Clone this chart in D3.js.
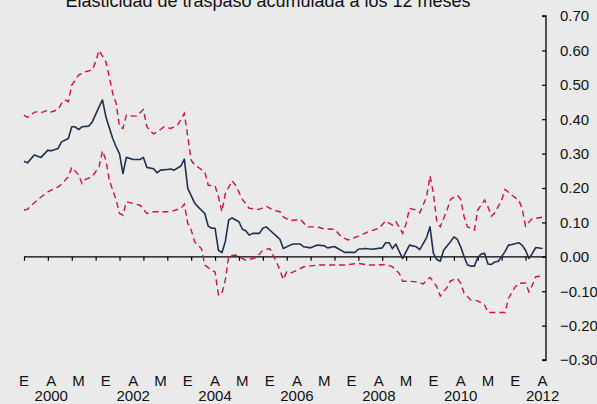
<!DOCTYPE html>
<html>
<head>
<meta charset="utf-8">
<script src="https://cdn.jsdelivr.net/npm/d3@7"></script>
<style>
  body { margin: 0; background: #eaeaea; }
  svg { display: block; font-family: Arial, "Liberation Sans", sans-serif; }
</style>
</head>
<body>
<div id="chart"></div>
<script>
// month index 0 = enero 2000
const centralM = [0, 1, 3, 5, 7, 8, 10, 11, 13, 14, 15, 16, 17, 19, 20, 22, 23, 24, 26, 27, 28, 29, 30, 32, 34, 35, 36, 38, 39, 40, 42, 43, 44, 46, 47, 48, 50, 51, 53, 54, 55, 56, 57, 58, 59, 60, 61, 63, 64, 65, 66, 67, 69, 70, 71, 72, 74, 75, 76, 78, 79, 81, 82, 84, 86, 88, 89, 91, 92, 94, 97, 98, 100, 102, 105, 106, 107, 108, 109, 110, 111, 112, 113, 115, 116, 118, 119, 120, 121, 122, 123, 125, 126, 127, 128, 129, 130, 131, 132, 133, 134, 135, 136, 137, 138, 139, 141, 142, 143, 145, 146, 147, 148, 149, 150, 152];
const centralV = [0.278, 0.273, 0.296, 0.289, 0.310, 0.308, 0.315, 0.334, 0.344, 0.378, 0.378, 0.370, 0.378, 0.380, 0.392, 0.436, 0.456, 0.407, 0.344, 0.320, 0.299, 0.242, 0.289, 0.283, 0.283, 0.289, 0.260, 0.256, 0.244, 0.252, 0.254, 0.255, 0.252, 0.264, 0.284, 0.199, 0.157, 0.145, 0.126, 0.089, 0.083, 0.083, 0.019, 0.012, 0.044, 0.107, 0.113, 0.102, 0.080, 0.076, 0.063, 0.068, 0.068, 0.083, 0.087, 0.078, 0.060, 0.051, 0.024, 0.034, 0.037, 0.037, 0.029, 0.026, 0.034, 0.032, 0.026, 0.030, 0.024, 0.013, 0.013, 0.022, 0.024, 0.022, 0.026, 0.041, 0.041, 0.024, 0.037, 0.015, -0.005, 0.015, 0.034, 0.029, 0.021, 0.056, 0.087, 0.010, -0.008, -0.013, 0.019, 0.044, 0.058, 0.051, 0.029, 0.000, -0.024, -0.027, -0.027, -0.002, 0.008, 0.010, -0.021, -0.022, -0.015, -0.013, 0.015, 0.034, 0.036, 0.041, 0.034, 0.019, -0.005, 0.010, 0.027, 0.024, 0.029];

const upperM = [0, 1, 3, 4, 5, 7, 8, 10, 11, 12, 13, 14, 16, 18, 20, 21, 22, 24, 25, 26, 27, 28, 29, 30, 32, 33, 35, 36, 37, 38, 40, 41, 43, 45, 46, 47, 49, 50, 53, 54, 56, 57, 58, 59, 61, 62, 64, 66, 69, 71, 73, 75, 76, 78, 81, 83, 86, 88, 91, 93, 95, 98, 101, 104, 106, 108, 109, 111, 112, 113, 115, 116, 118, 119, 120, 121, 122, 124, 125, 127, 128, 129, 130, 132, 133, 135, 136, 137, 138, 140, 141, 143, 145, 146, 147, 149, 150, 152];
const upperV = [0.412, 0.405, 0.420, 0.422, 0.419, 0.426, 0.421, 0.428, 0.446, 0.456, 0.451, 0.499, 0.528, 0.538, 0.543, 0.567, 0.600, 0.567, 0.523, 0.475, 0.446, 0.378, 0.373, 0.412, 0.409, 0.409, 0.428, 0.378, 0.366, 0.357, 0.370, 0.378, 0.373, 0.383, 0.399, 0.417, 0.281, 0.267, 0.247, 0.208, 0.206, 0.174, 0.131, 0.184, 0.221, 0.208, 0.167, 0.141, 0.138, 0.147, 0.136, 0.131, 0.116, 0.105, 0.109, 0.087, 0.087, 0.081, 0.080, 0.058, 0.049, 0.060, 0.073, 0.083, 0.104, 0.092, 0.102, 0.068, 0.097, 0.141, 0.136, 0.128, 0.174, 0.235, 0.184, 0.102, 0.087, 0.136, 0.167, 0.179, 0.167, 0.116, 0.087, 0.078, 0.136, 0.165, 0.145, 0.118, 0.128, 0.165, 0.196, 0.179, 0.165, 0.141, 0.089, 0.112, 0.112, 0.115];

const lowerM = [0, 1, 3, 5, 7, 8, 10, 11, 13, 14, 16, 17, 18, 20, 22, 23, 24, 25, 26, 27, 28, 29, 30, 32, 34, 36, 38, 41, 43, 46, 47, 48, 49, 50, 52, 53, 55, 56, 57, 58, 59, 60, 62, 65, 68, 70, 72, 74, 75, 76, 77, 78, 80, 82, 86, 90, 94, 98, 101, 104, 106, 108, 110, 111, 113, 115, 117, 118, 119, 121, 122, 124, 125, 127, 128, 129, 131, 133, 135, 136, 138, 141, 142, 144, 145, 147, 148, 149, 150, 152];
const lowerV = [0.136, 0.138, 0.157, 0.174, 0.189, 0.194, 0.203, 0.211, 0.233, 0.260, 0.238, 0.213, 0.225, 0.233, 0.262, 0.308, 0.281, 0.223, 0.194, 0.165, 0.126, 0.121, 0.160, 0.155, 0.150, 0.126, 0.131, 0.131, 0.131, 0.141, 0.153, 0.097, 0.078, 0.044, 0.024, -0.024, -0.039, -0.044, -0.111, -0.106, -0.068, 0.002, 0.005, -0.010, -0.003, 0.019, 0.024, -0.015, -0.039, -0.066, -0.044, -0.048, -0.039, -0.029, -0.024, -0.024, -0.024, -0.019, -0.024, -0.024, -0.022, -0.029, -0.048, -0.071, -0.071, -0.073, -0.079, -0.068, -0.060, -0.087, -0.114, -0.089, -0.070, -0.063, -0.077, -0.106, -0.126, -0.128, -0.140, -0.162, -0.162, -0.162, -0.121, -0.087, -0.077, -0.076, -0.102, -0.082, -0.058, -0.056];

const yTicks = [0.7, 0.6, 0.5, 0.4, 0.3, 0.2, 0.1, 0.0, -0.1, -0.2, -0.3];
const xTickMonths = d3.range(0, 148, 7);
const monthLabels = ["E", "A", "M", "E", "A", "M", "E", "A", "M", "E", "A", "M", "E", "A", "M", "E", "A", "M", "E", "A"];
const yearLabels = ["2000", "2002", "2004", "2006", "2008", "2010", "2012"];
const title = "Elasticidad de traspaso acumulada a los 12 meses";

const width = 597, height = 404;

const svg = d3.select("#chart").append("svg")
    .attr("width", width)
    .attr("height", height);

svg.append("rect").attr("width", width).attr("height", height).attr("fill", "#eaeaea");

const x = d3.scaleLinear().domain([0, 153]).range([24, 546]);
const y = d3.scaleLinear().domain([-0.3, 0.7]).range([360, 16]);

// title (partly cut off at the top in the original)
svg.append("text")
    .attr("x", 268).attr("y", 7)
    .attr("text-anchor", "middle")
    .attr("font-size", 18)
    .attr("fill", "#111")
    .text(title);

// right axis
const gY = svg.append("g").attr("transform", `translate(${x(153)},0)`);
gY.call(d3.axisLeft(y).tickValues(yTicks).tickSize(4).tickFormat(() => ""));
gY.select(".domain").attr("d", `M-4,${y(0.7)}H0V${y(-0.3)}H-4`).attr("stroke", "#000").attr("stroke-width", 1.3);
gY.selectAll(".tick line").attr("stroke", "#000").attr("stroke-width", 1.2);
svg.append("g").selectAll("text").data(yTicks).join("text")
    .attr("x", x(153) + 14)
    .attr("y", d => y(d))
    .attr("dy", "0.36em")
    .attr("font-size", 15)
    .attr("fill", "#111")
    .text(d => d3.format(".2f")(d));

// zero line with ticks
const gX = svg.append("g").attr("transform", `translate(0,${y(0)})`);
gX.call(d3.axisBottom(x).tickValues(xTickMonths).tickSize(4).tickFormat(() => ""));
gX.select(".domain").attr("d", `M${x(0)},0H${x(153)}`).attr("stroke", "#000").attr("stroke-width", 1.3);
gX.selectAll(".tick line").attr("stroke", "#000").attr("stroke-width", 1.2);

// month / year labels
svg.append("g").selectAll("text").data(monthLabels).join("text")
    .attr("x", (d, i) => x(i * 8))
    .attr("y", 386)
    .attr("text-anchor", "middle")
    .attr("font-size", 15)
    .attr("fill", "#111")
    .text(d => d);
svg.append("g").selectAll("text").data(yearLabels).join("text")
    .attr("x", (d, i) => x(8 + i * 24))
    .attr("y", 401)
    .attr("text-anchor", "middle")
    .attr("font-size", 15)
    .attr("fill", "#111")
    .text(d => d);

const line = d3.line().x(d => x(d[0])).y(d => y(d[1]));
const zip = (m, v) => m.map((d, i) => [d, v[i]]);

svg.append("path").datum(zip(upperM, upperV))
    .attr("fill", "none").attr("stroke", "#cf1241").attr("stroke-width", 1.4)
    .attr("stroke-dasharray", "6,4").attr("d", line);
svg.append("path").datum(zip(lowerM, lowerV))
    .attr("fill", "none").attr("stroke", "#cf1241").attr("stroke-width", 1.4)
    .attr("stroke-dasharray", "6,4").attr("d", line);
svg.append("path").datum(zip(centralM, centralV))
    .attr("fill", "none").attr("stroke", "#1d3050").attr("stroke-width", 1.6)
    .attr("stroke-linejoin", "round").attr("d", line);
</script>
</body>
</html>
